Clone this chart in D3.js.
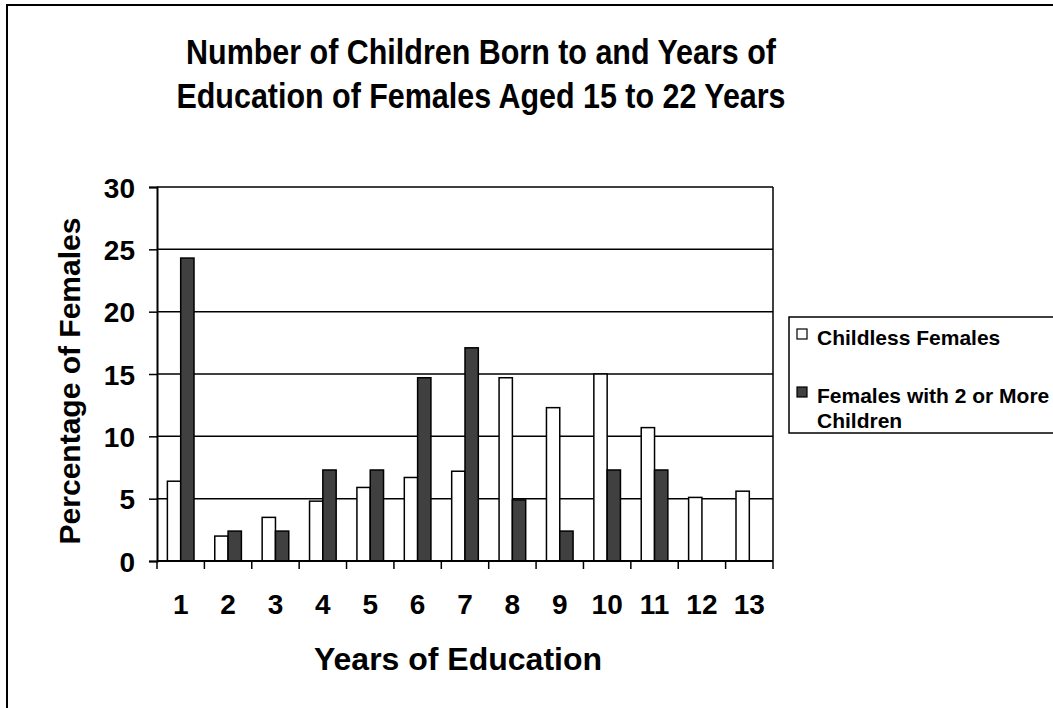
<!DOCTYPE html>
<html><head><meta charset="utf-8">
<script src="https://cdn.jsdelivr.net/npm/d3@7/dist/d3.min.js"></script>
<style>html,body{margin:0;padding:0;background:#fff;} svg text{font-family:"Liberation Sans",Arial,sans-serif;font-weight:bold;fill:#000;}</style>
</head><body>
<script>
const categories = ["1","2","3","4","5","6","7","8","9","10","11","12","13"];
const seriesNames = ["Childless Females","Females with 2 or More Children"];
const childless = [6.4,2.0,3.5,4.8,5.9,6.7,7.2,14.7,12.3,15.0,10.7,5.1,5.6];
const twoOrMore = [24.3,2.4,2.4,7.3,7.3,14.7,17.1,4.9,2.4,7.3,7.3,0,0];
const yTicks = [0,5,10,15,20,25,30];
const titleLines = ["Number of Children Born to and Years of","Education of Females Aged 15 to 22 Years"];
const xTitle = "Years of Education";
const yTitle = "Percentage of Females";
const colors = ["#ffffff","#404040"];

const W=1053,H=708;
const svg=d3.select("body").append("svg").attr("width",W).attr("height",H);
svg.append("rect").attr("x",7).attr("y",5).attr("width",W+10).attr("height",H+10).attr("fill","#fff").attr("stroke","#000").attr("stroke-width",2);

const L=157,R=773,T=187,B=561;
const x=d3.scaleBand().domain(categories).range([L,R]).padding(0);
const xi=d3.scaleBand().domain(seriesNames).range([0,x.bandwidth()]).paddingInner(0).paddingOuter(0.78);
const y=d3.scaleLinear().domain([0,30]).range([B,T]);

// gridlines
svg.append("g").selectAll("line").data(yTicks.filter(d=>d>0)).join("line")
  .attr("x1",L).attr("x2",R).attr("y1",d=>y(d)).attr("y2",d=>y(d))
  .attr("stroke","#000").attr("stroke-width",1.5);
// right border of plot
svg.append("line").attr("x1",R).attr("x2",R).attr("y1",T).attr("y2",B).attr("stroke","#000").attr("stroke-width",1.5);

const rows=categories.map((c,i)=>({c,vals:[childless[i],twoOrMore[i]]}));
const g=svg.append("g").selectAll("g").data(rows).join("g").attr("transform",d=>`translate(${x(d.c)},0)`);
g.selectAll("rect").data(d=>d.vals.map((v,k)=>({v,k})).filter(o=>o.v>0)).join("rect")
  .attr("x",o=>xi(seriesNames[o.k])).attr("width",xi.bandwidth())
  .attr("y",o=>y(o.v)).attr("height",o=>B-y(o.v))
  .attr("fill",o=>colors[o.k]).attr("stroke","#000").attr("stroke-width",1.5);

// y axis
const yAxis=d3.axisLeft(y).tickValues(yTicks).tickSize(8).tickPadding(14).tickFormat(d3.format("d"));
const ya=svg.append("g").attr("transform",`translate(${L},0)`).call(yAxis);
ya.select(".domain").attr("stroke","#000").attr("stroke-width",2);
ya.selectAll(".tick line").attr("stroke","#000").attr("stroke-width",1.5);
ya.selectAll(".tick text").style("font-size","28px").attr("dy","0.36em");

// x axis: ticks at band boundaries
const bounds=categories.map(c=>x(c)).concat([R]);
svg.append("line").attr("x1",L).attr("x2",R).attr("y1",B).attr("y2",B).attr("stroke","#000").attr("stroke-width",2);
svg.append("g").selectAll("line").data(bounds).join("line")
  .attr("x1",d=>d).attr("x2",d=>d).attr("y1",B).attr("y2",B+8).attr("stroke","#000").attr("stroke-width",1.5);
svg.append("g").selectAll("text").data(categories).join("text")
  .attr("x",d=>x(d)+x.bandwidth()/2).attr("y",614).attr("text-anchor","middle").style("font-size","28px").text(d=>d);

// titles
svg.append("g").selectAll("text").data(titleLines).join("text")
  .attr("transform",(d,i)=>`translate(481,${64+i*44}) scale(0.87,1)`).attr("text-anchor","middle").style("font-size","35px").text(d=>d);
svg.append("text").attr("x",458).attr("y",670).attr("text-anchor","middle").style("font-size","32px").text(xTitle);
svg.append("text").attr("transform","translate(80,381) rotate(-90)").attr("text-anchor","middle").style("font-size","30px").text(yTitle);

// legend
const lg=svg.append("g");
lg.append("rect").attr("x",789).attr("y",317).attr("width",300).attr("height",116).attr("fill","#fff").attr("stroke","#000").attr("stroke-width",1.5);
const legendItems=[{name:"Childless Females",lines:["Childless Females"],my:329,by:345},{name:"Females with 2 or More Children",lines:["Females with 2 or More","Children"],my:387,by:403}];
legendItems.forEach((it,k)=>{
  lg.append("rect").attr("x",797).attr("y",it.my).attr("width",10).attr("height",10).attr("fill",colors[seriesNames.indexOf(it.name)]).attr("stroke","#000").attr("stroke-width",1.2);
  it.lines.forEach((t,j)=>lg.append("text").attr("x",817).attr("y",it.by+j*25).style("font-size","21px").text(t));
});
</script>
</body></html>
